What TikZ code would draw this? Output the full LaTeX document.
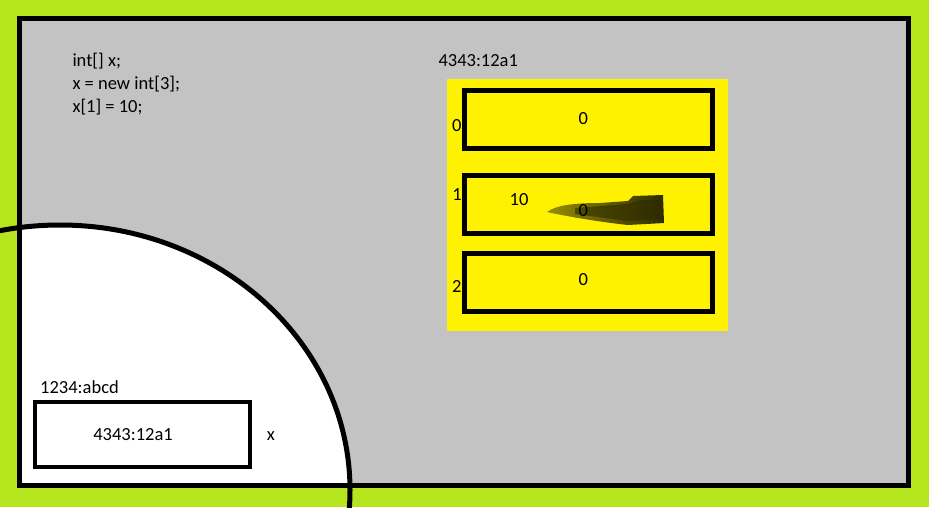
\documentclass[tikz,border=0pt]{standalone}
\usepackage{fontspec}
\setmainfont{Carlito}
\usetikzlibrary{positioning}
\definecolor{paintgreen}{RGB}{181,230,29}
\definecolor{heapgray}{RGB}{195,195,195}
\definecolor{arryellow}{RGB}{255,242,0}
\definecolor{smudgelight}{RGB}{150,142,0}
\definecolor{smudgedark}{RGB}{45,43,0}

\begin{document}
\begin{tikzpicture}[x=1pt,y=-1pt,
  lab/.style={font=\fontsize{18.5}{23}\selectfont,inner sep=0pt},
  cell/.style={draw,line width=5pt,minimum width=248pt,minimum height=58pt,inner sep=0pt},
  refbox/.style={draw,line width=4.5pt,minimum width=215pt,minimum height=65pt,inner sep=0pt}
]
\useasboundingbox (0,0) rectangle (929,507);
\fill[paintgreen] (0,0) rectangle (929,507);
\fill[heapgray] (19.5,18) rectangle (908.5,485);
% stack area
\begin{scope}
  \clip (19.5,18) rectangle (908.5,485);
  \fill[white] (60,490) ellipse [x radius=290, y radius=265];
\end{scope}
\draw[line width=5pt] (19.5,18) rectangle (908.5,485);
\begin{scope}
  \clip (0,0) rectangle (929,507);
  \draw[line width=5pt] (60,490) ellipse [x radius=290, y radius=265];
\end{scope}

\node[lab,anchor=base west,align=left] (code) at (72.3,112.7) {int[] x;\\x = new int[3];\\x[1] = 10;};

% array on the heap
\node[lab,anchor=base west] (addr) at (438.3,66.7) {4343:12a1};
\fill[arryellow] (447,79.3) rectangle (727.7,330.7);
\node[cell] (cell0) at (588.3,119) {};
\node[cell] (cell1) at (588.3,204) {};
\node[cell] (cell2) at (588.3,282.7) {};
\node[lab,anchor=base] (idx0) at (456.8,131.7) {0};
\node[lab,anchor=base] (idx1) at (457,200) {1};
\node[lab,anchor=base] (idx2) at (456.8,292.7) {2};
\node[lab,anchor=base] (val0) at (583.3,124) {0};
\shade[left color=smudgelight,right color=smudgedark]
  (547,212) .. controls (556,205) and (575,203) .. (600,203)
  -- (628,201) -- (633,196) -- (663,195) -- (664,223) -- (628,225)
  .. controls (600,222) and (570,217) .. (547,212) -- cycle;
\fill[smudgedark,opacity=0.6] (575,208) -- (628,204) -- (640,200) -- (660,200)
  -- (660,219) -- (628,221) -- (575,214) -- cycle;
\node[lab,anchor=base] (new1) at (519,205) {10};
\node[lab,anchor=base] (val1) at (583.3,216) {0};
\node[lab,anchor=base] (val2) at (583.3,285) {0};

% reference variable
\node[lab,anchor=base west] (varaddr) at (40,393) {1234:abcd};
\node[refbox] (xbox) at (142.5,434.5) {};
\node[lab,anchor=base] (xval) at (133,440.7) {4343:12a1};
\node[lab,anchor=base] (xname) at (271,440) {x};
\end{tikzpicture}
\end{document}
